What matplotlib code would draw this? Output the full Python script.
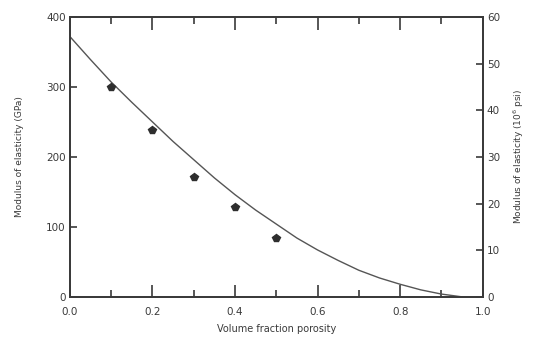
import matplotlib
matplotlib.use("Agg")
import matplotlib.pyplot as plt
from matplotlib.ticker import MultipleLocator

# measured points (porosity, modulus GPa)
porosity = [0.1, 0.2, 0.3, 0.4, 0.5]
modulus = [300, 238, 171, 128, 84]

# fitted curve
curve_p = [0.0, 0.05, 0.1, 0.15, 0.2, 0.25, 0.3, 0.35, 0.4, 0.45, 0.5,
           0.55, 0.6, 0.65, 0.7, 0.75, 0.8, 0.85, 0.9, 0.95]
curve_e = [372, 339, 307, 278, 250, 222, 196, 170, 146, 124, 104,
           84, 67, 52, 38, 27, 18, 10, 4, 0]

x_ticks = [0.0, 0.2, 0.4, 0.6, 0.8, 1.0]
x_labels = ["0.0", "0.2", "0.4", "0.6", "0.8", "1.0"]
gpa_ticks = [0, 100, 200, 300, 400]
psi_ticks = [0, 10, 20, 30, 40, 50, 60]

ink = "#3a3a3a"
plt.rcParams['font.family'] = ['DejaVu Sans']

fig = plt.figure(figsize=(5.37, 3.44), dpi=100)
ax = fig.add_axes([0.130, 0.137, 0.769, 0.814])

ax.plot(curve_p, curve_e, color="#555555", lw=1.0)
ax.plot(porosity, modulus, linestyle="none", marker="p", ms=6, color="#2e2e2e")

ax.set_xlim(0, 1.0)
ax.set_ylim(0, 400)
ax.set_xticks(x_ticks)
ax.set_xticklabels(x_labels)
ax.xaxis.set_minor_locator(MultipleLocator(0.1))
ax.set_yticks(gpa_ticks)

ax.tick_params(axis="x", which="major", direction="in", length=9, width=1.2,
               top=True, colors=ink, labelsize=7.5, pad=7)
ax.tick_params(axis="x", which="minor", direction="in", length=5, width=1.2,
               top=True, colors=ink)
ax.tick_params(axis="y", direction="in", length=5, width=1.2, colors=ink,
               labelsize=7.5, pad=3)

for s in ax.spines.values():
    s.set_linewidth(1.3)
    s.set_color(ink)

ax.set_xlabel("Volume fraction porosity", fontsize=7, color=ink, labelpad=5)
ax.set_ylabel("Modulus of elasticity (GPa)", fontsize=6.5, color=ink, labelpad=16)

ax2 = ax.twinx()
ax2.set_ylim(0, 60)
ax2.set_yticks(psi_ticks)
ax2.tick_params(axis="y", direction="in", length=5, width=1.2, colors=ink,
                labelsize=7.5, pad=3)
for s in ax2.spines.values():
    s.set_linewidth(1.3)
    s.set_color(ink)
ax2.set_ylabel("Modulus of elasticity (10$^6$ psi)", fontsize=6.5, color=ink,
               rotation=90, labelpad=8)

fig.savefig("out.png", dpi=100)
